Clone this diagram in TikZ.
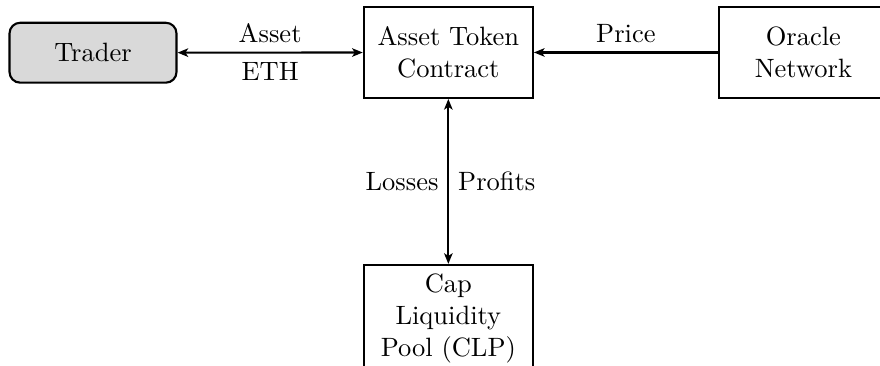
\documentclass[tikz,border=0pt]{standalone}
\usetikzlibrary{arrows.meta}
\begin{document}
\begin{tikzpicture}[x=1pt,y=1pt,
  box/.style={draw,thick,minimum width=63.8pt,minimum height=34.3pt,text width=56pt,align=center,inner sep=3.33pt},
  actor/.style={draw,thick,rounded corners=4pt,fill=fillColor,minimum width=63pt,minimum height=22.6pt},
  flow/.style={thick,-{Stealth[length=4pt,width=3.2pt,inset=1pt]}},
  flows/.style={thick,{Stealth[length=4pt,width=3.2pt,inset=1pt]}-{Stealth[length=4pt,width=3.2pt,inset=1pt]}}]
\definecolor{fillColor}{RGB}{217,217,217}
\path[use as bounding box] (0,0) rectangle (332.1,138.1);
\begin{scope}
\path[clip] (0,0) rectangle (332.1,138.1);

\node[actor] (trader) at ( 35.1,118.2) {Trader};

\node[box] (contract) at (169.2,118.3) {Asset Token Contract};

\node[box] (oracle) at (303.2,118.3) {Oracle Network};

\node[box,anchor=north] (clp) at (169.2, 38.5) {Cap Liquidity Pool (CLP)};

\draw[flows] (trader) -- node[above] {Asset} node[below] {ETH} (contract);

\draw[flow] (oracle) -- node[above] {Price} (contract);

\draw[flows] (contract) -- node[left] {Losses} node[right] {Profits} (clp);
\end{scope}
\end{tikzpicture}
\end{document}
